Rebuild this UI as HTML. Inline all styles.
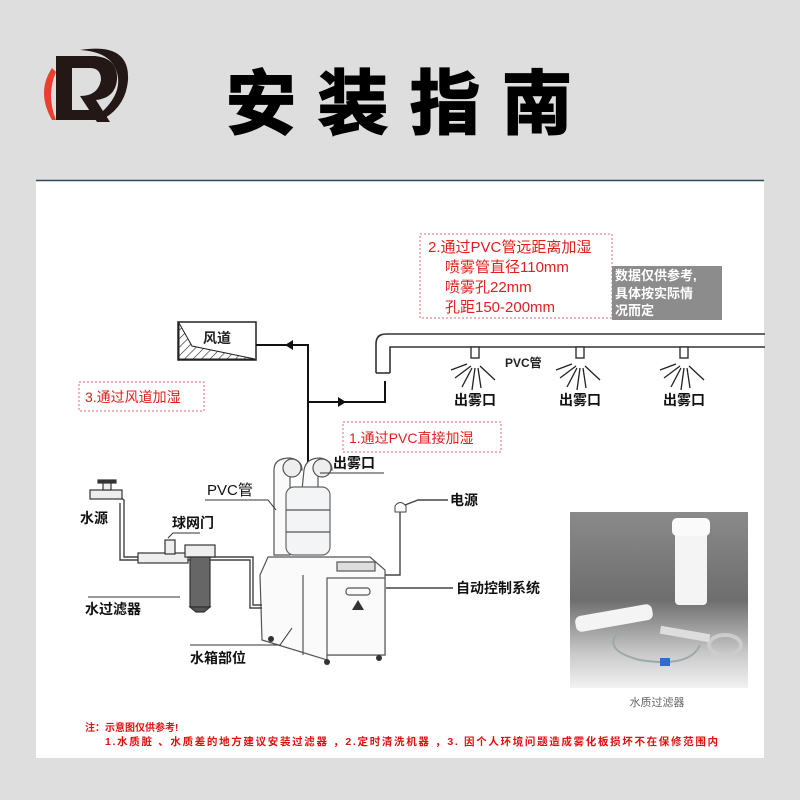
<!DOCTYPE html>
<html><head><meta charset="utf-8"><style>
html,body{margin:0;padding:0;background:#dedede;}
svg{display:block;}
text{font-family:"Liberation Sans","Noto Sans CJK SC",sans-serif;}
</style></head><body>
<svg width="800" height="800" viewBox="0 0 800 800" xmlns="http://www.w3.org/2000/svg">
<defs>
<pattern id="h" width="6" height="6" patternUnits="userSpaceOnUse" patternTransform="rotate(45)"><line x1="0" y1="0" x2="0" y2="6" stroke="#222" stroke-width="1.2"/></pattern>
<linearGradient id="pg" x1="0" y1="0" x2="0" y2="1"><stop offset="0" stop-color="#8a8a8a"/><stop offset="0.5" stop-color="#6e6e6e"/><stop offset="0.8" stop-color="#c8c8c8"/><stop offset="1" stop-color="#f2f2f2"/></linearGradient>
</defs>
<rect width="800" height="800" fill="#dedede"/>
<!-- logo -->
<path d="M52 68 Q36 92 52 120 L56 120 Q46 95 56 72 Z" fill="#e8402e"/>
<path d="M56 56 L95 56 Q118 58 117 80 Q115 98 96 100 L110 122 L97 122 L80 96 Q98 96 101 80 Q101 68 90 68 L72 68 L72 110 L92 110 L98 120 L56 120 Z" fill="#231815"/>
<path d="M80 50 Q130 42 128 80 Q126 105 105 118 L102 112 Q120 95 118 78 Q115 52 80 50 Z" fill="#231815"/>
<!-- title -->
<text x="226" y="128" font-size="70" font-weight="bold" letter-spacing="22" fill="#000" stroke="#000" stroke-width="2">安装指南</text>
<!-- panel -->
<rect x="36" y="180" width="728" height="578" fill="#fff"/>
<line x1="36" y1="180.5" x2="764" y2="180.5" stroke="#2b4a5e" stroke-width="1.5"/>
<!-- box 2 -->
<rect x="420" y="234" width="192" height="84" fill="none" stroke="#e56a6a" stroke-dasharray="2,2"/>
<text x="428" y="252" font-size="15" fill="#e02020">2.通过PVC管远距离加湿</text>
<text x="445" y="272" font-size="15" fill="#e02020">喷雾管直径110mm</text>
<text x="445" y="292" font-size="15" fill="#e02020">喷雾孔22mm</text>
<text x="445" y="312" font-size="15" fill="#e02020">孔距150-200mm</text>
<rect x="612" y="266" width="110" height="54" fill="#8c8c8c"/>
<text x="615" y="280" font-size="13" fill="#fff" font-weight="bold">数据仅供参考,</text>
<text x="615" y="298" font-size="13" fill="#fff" font-weight="bold">具体按实际情</text>
<text x="615" y="315" font-size="13" fill="#fff" font-weight="bold">况而定</text>
<!-- 风道 -->
<rect x="178" y="322" width="78" height="38" fill="#fff" stroke="#222" stroke-width="1.5"/>
<path d="M179 323 L192 346 L255 359 L179 359 Z" fill="url(#h)" stroke="#222"/>
<text x="203" y="343" font-size="14" font-weight="bold" fill="#222">风道</text>
<g stroke="#111" stroke-width="2" fill="none">
<polyline points="256,345 308,345 308,470"/>
<polyline points="308,402 385,402 385,381"/>
</g>
<path d="M285 345 L293 340 L293 350 Z" fill="#111"/>
<path d="M346 402 L338 397 L338 407 Z" fill="#111"/>
<!-- long pipe -->
<g stroke="#333" stroke-width="1.6" fill="none">
<path d="M376 373 L376 344 Q376 334 386 334 L765 334"/>
<path d="M390 373 L390 347 L765 347"/>
<line x1="376" y1="373" x2="390" y2="373"/>
</g>
<g stroke="#333" stroke-width="1.4" fill="#fff">
<rect x="471" y="347" width="8" height="11"/>
<rect x="576" y="347" width="8" height="11"/>
<rect x="680" y="347" width="8" height="11"/>
</g>
<g stroke="#222" stroke-width="1.3">
<g transform="translate(475,0)"><line x1="-4" y1="366" x2="-20" y2="378"/><line x1="-3" y1="368" x2="-13" y2="387"/><line x1="0" y1="368" x2="-3" y2="390"/><line x1="3" y1="368" x2="6" y2="388"/><line x1="5" y1="366" x2="20" y2="380"/><line x1="-8" y1="364" x2="-24" y2="370"/></g>
<g transform="translate(580,0)"><line x1="-4" y1="366" x2="-20" y2="378"/><line x1="-3" y1="368" x2="-13" y2="387"/><line x1="0" y1="368" x2="-3" y2="390"/><line x1="3" y1="368" x2="6" y2="388"/><line x1="5" y1="366" x2="20" y2="380"/><line x1="-8" y1="364" x2="-24" y2="370"/></g>
<g transform="translate(684,0)"><line x1="-4" y1="366" x2="-20" y2="378"/><line x1="-3" y1="368" x2="-13" y2="387"/><line x1="0" y1="368" x2="-3" y2="390"/><line x1="3" y1="368" x2="6" y2="388"/><line x1="5" y1="366" x2="20" y2="380"/><line x1="-8" y1="364" x2="-24" y2="370"/></g>
</g>
<text x="505" y="367" font-size="12" font-weight="bold" fill="#222">PVC管</text>
<text x="475" y="405" font-size="14" font-weight="bold" fill="#111" text-anchor="middle">出雾口</text>
<text x="580" y="405" font-size="14" font-weight="bold" fill="#111" text-anchor="middle">出雾口</text>
<text x="684" y="405" font-size="14" font-weight="bold" fill="#111" text-anchor="middle">出雾口</text>
<!-- box 3 and 1 -->
<rect x="79" y="382" width="125" height="29" fill="none" stroke="#e56a6a" stroke-dasharray="2,2"/>
<text x="85" y="402" font-size="14" fill="#e02020">3.通过风道加湿</text>
<rect x="343" y="422" width="158" height="30" fill="none" stroke="#e56a6a" stroke-dasharray="2,2"/>
<text x="349" y="443" font-size="14" fill="#e02020">1.通过PVC直接加湿</text>
<!-- machine -->
<g stroke="#555" stroke-width="1.2" fill="#fafafa">
<path d="M274 555 L274 470 Q274 458 290 458 Q302 460 302 470 L290 470 L290 555 Z"/>
<circle cx="292" cy="468" r="9" fill="#eee"/>
<path d="M302 490 L304 470 Q306 458 320 458 Q332 460 332 470 L318 472 L318 490 Z"/>
<circle cx="322" cy="468" r="9" fill="#eee"/>
<rect x="286" y="487" width="44" height="68" rx="8" fill="#f2f4f5" stroke="#666"/>
<line x1="286" y1="510" x2="330" y2="510"/><line x1="286" y1="532" x2="330" y2="532"/>
<path d="M268 557 L370 557 L385 570 L385 655 L327 655 L327 660 L262 640 L260 575 Z"/>
<rect x="327" y="578" width="58" height="77"/>
<rect x="337" y="562" width="38" height="9" fill="#ddd"/>
<rect x="346" y="588" width="24" height="7" rx="3"/>
<line x1="303" y1="575" x2="303" y2="655"/>
</g>
<path d="M352 610 L358 600 L364 610 Z" fill="#333"/>
<g fill="#333"><circle cx="271" cy="639" r="3"/><circle cx="327" cy="662" r="3"/><circle cx="379" cy="658" r="3"/></g>
<text x="333" y="468" font-size="14" font-weight="bold" fill="#111">出雾口</text>
<line x1="320" y1="473" x2="384" y2="473" stroke="#333"/>
<text x="207" y="495" font-size="15" fill="#111">PVC管</text>
<polyline points="205,500 268,500 276,510" fill="none" stroke="#333"/>
<!-- water side -->
<g stroke="#444" stroke-width="1.4" fill="none">
<polyline points="120,497 124,500 124,557 253,557 253,605 262,605"/>
<polyline points="120,503 120,560 250,560 250,608 262,608"/>
</g>
<g stroke="#333" fill="#eee" stroke-width="1.2">
<rect x="90" y="490" width="32" height="9"/>
<rect x="103" y="482" width="8" height="8"/>
<rect x="98" y="480" width="18" height="3" fill="#333"/>
<rect x="138" y="553" width="50" height="10"/>
<rect x="165" y="540" width="10" height="14"/>
<rect x="185" y="545" width="30" height="12"/>
<rect x="190" y="557" width="20" height="50" fill="#666"/>
<path d="M190 607 L210 607 L204 612 L196 612 Z" fill="#555"/>
</g>
<text x="80" y="523" font-size="14" font-weight="bold" fill="#111">水源</text>
<text x="172" y="528" font-size="14" font-weight="bold" fill="#111">球网门</text>
<polyline points="168,538 173,533 200,533" fill="none" stroke="#333"/>
<line x1="88" y1="597" x2="180" y2="597" stroke="#333"/>
<text x="85" y="614" font-size="14" font-weight="bold" fill="#111">水过滤器</text>
<polyline points="190,645 280,645 292,628" fill="none" stroke="#333"/>
<text x="190" y="663" font-size="14" font-weight="bold" fill="#111">水箱部位</text>
<!-- power -->
<g stroke="#444" stroke-width="1.4" fill="none">
<polyline points="385,575 400,575 400,512"/>
<polyline points="405,505 418,500 448,500"/>
</g>
<path d="M395 512 L395 506 Q400 499 406 506 L406 512 Z" fill="#fff" stroke="#444"/>
<text x="450" y="505" font-size="14" font-weight="bold" fill="#111">电源</text>
<line x1="386" y1="588" x2="453" y2="588" stroke="#444" stroke-width="1.4"/>
<text x="456" y="593" font-size="14" font-weight="bold" fill="#111">自动控制系统</text>
<!-- photo -->
<rect x="570" y="512" width="178" height="176" fill="url(#pg)"/>
<rect x="675" y="525" width="32" height="80" rx="4" fill="#f4f4f4"/>
<rect x="672" y="518" width="38" height="18" rx="5" fill="#fafafa"/>
<rect x="575" y="610" width="78" height="16" rx="6" fill="#f4f4f4" transform="rotate(-10 614 618)"/>
<path d="M620 630 Q600 650 640 660 Q690 668 700 645" fill="none" stroke="#9aa" stroke-width="2"/>
<ellipse cx="725" cy="645" rx="16" ry="10" fill="none" stroke="#ccc" stroke-width="4"/>
<rect x="660" y="630" width="50" height="8" fill="#ddd" transform="rotate(10 685 634)"/>
<rect x="660" y="658" width="10" height="8" fill="#2a6fd0"/>
<text x="657" y="706" font-size="11" fill="#666" text-anchor="middle">水质过滤器</text>
<!-- notes -->
<text x="85" y="731" font-size="10" font-weight="bold" fill="#e01010">注：示意图仅供参考!</text>
<text x="105" y="745" font-size="10.5" font-weight="bold" fill="#e01010" textLength="613">1.水质脏 、水质差的地方建议安装过滤器 ，2.定时清洗机器 ，3. 因个人环境问题造成雾化板损坏不在保修范围内</text>
</svg>
</body></html>
